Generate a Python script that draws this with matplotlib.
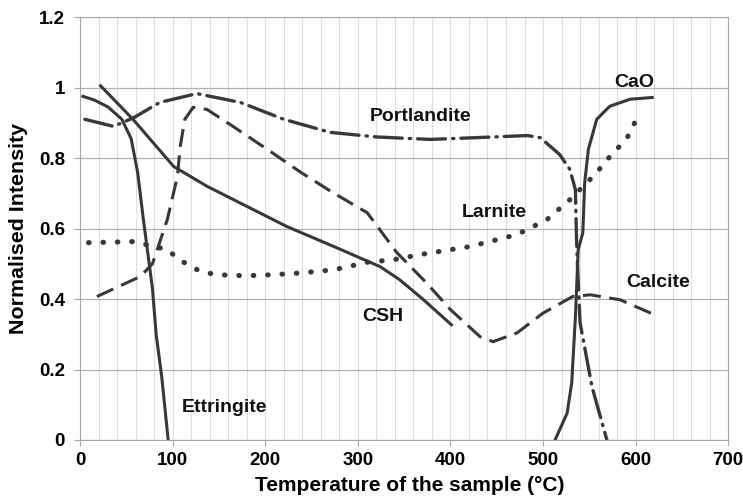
import numpy as np
import matplotlib.pyplot as plt
from matplotlib.ticker import MultipleLocator

plt.rcParams['font.family'] = ['Liberation Sans', 'DejaVu Sans']

# Dades llegides de la figura (temperatura en C, intensitat normalitzada)
ettr_x = [3, 15, 30, 45, 55, 62, 68, 74, 78, 82, 88, 95]
ettr_y = [0.975, 0.965, 0.945, 0.91, 0.855, 0.76, 0.63, 0.51, 0.43, 0.3, 0.18, 0.0]

csh_x = [22, 57, 101, 137, 180, 223, 274, 324, 345, 370, 401]
csh_y = [1.005, 0.91, 0.776, 0.72, 0.663, 0.606, 0.549, 0.492, 0.455, 0.4, 0.327]

port_x = [5, 36, 58, 86, 126, 173, 220, 270, 320, 378, 428, 483, 497, 518, 529, 535, 536, 537, 540, 553, 569]
port_y = [0.91, 0.89, 0.915, 0.958, 0.983, 0.958, 0.91, 0.873, 0.86, 0.853, 0.858, 0.864, 0.858, 0.81, 0.768, 0.71, 0.588, 0.51, 0.333, 0.15, 0.0]

larn_x = [9, 58, 94, 108, 130, 148, 178, 209, 238, 274, 313, 335, 367, 421, 472, 504, 529, 556, 574, 590, 599]
larn_y = [0.56, 0.563, 0.54, 0.51, 0.478, 0.469, 0.466, 0.469, 0.474, 0.483, 0.506, 0.51, 0.526, 0.549, 0.583, 0.625, 0.682, 0.753, 0.81, 0.853, 0.9]

calc_x = [18, 65, 78, 94, 105, 108, 113, 122, 137, 165, 202, 238, 273, 310, 342, 374, 400, 432, 446, 472, 500, 532, 551, 583, 621]
calc_y = [0.407, 0.464, 0.5, 0.625, 0.748, 0.833, 0.91, 0.944, 0.938, 0.89, 0.825, 0.76, 0.702, 0.645, 0.532, 0.446, 0.37, 0.293, 0.279, 0.304, 0.36, 0.407, 0.412, 0.398, 0.355]

cao_x = [513, 526, 531, 535, 538, 543, 545, 549, 558, 572, 594, 618]
cao_y = [0.0, 0.076, 0.162, 0.35, 0.54, 0.588, 0.73, 0.825, 0.91, 0.947, 0.967, 0.972]

etiquetes = ['Ettringite', 'CSH', 'Portlandite', 'Larnite', 'Calcite', 'CaO']
etiq_x = [156, 327, 368, 447, 624, 599]
etiq_y = [0.091, 0.35, 0.918, 0.645, 0.446, 1.015]

col = '#383838'

fig = plt.figure(figsize=(7.43, 5.04), dpi=100)
ax = fig.add_axes([0.108, 0.127, 0.872, 0.839])

ax.plot(ettr_x, ettr_y, color=col, lw=2.2)
ax.plot(csh_x, csh_y, color=col, lw=2.2)
ax.plot(cao_x, cao_y, color=col, lw=2.2)
ax.plot(port_x, port_y, color=col, lw=2.4, linestyle=(0, (8.4, 2.1, 0.4, 2.1)),
        dash_capstyle='round')
ax.plot(calc_x, calc_y, color=col, lw=2.2, linestyle=(0, (5.9, 2.8)))
ax.plot(larn_x, larn_y, color=col, lw=3.7, linestyle=(0, (0.1, 2.7)),
        dash_capstyle='round')

for t, x, y in zip(etiquetes, etiq_x, etiq_y):
    ax.text(x, y, t, fontsize=14, fontweight='bold', ha='center', va='center',
            color='#111111')

ax.set_xlim(0, 700)
ax.set_ylim(0, 1.2)
ax.xaxis.set_major_locator(MultipleLocator(100))
ax.xaxis.set_minor_locator(MultipleLocator(20))
ax.set_yticks([0, 0.2, 0.4, 0.6, 0.8, 1.0, 1.2])
ax.set_yticklabels(['0', '0.2', '0.4', '0.6', '0.8', '1', '1.2'])

ax.grid(axis='y', which='major', color='#b0b0b0', lw=0.9)
ax.grid(axis='x', which='both', color='#dedede', lw=0.8)
ax.set_axisbelow(True)
for s in ax.spines.values():
    s.set_color('#a8a8a8')
ax.tick_params(which='major', length=4, color='#a8a8a8', pad=7)
ax.tick_params(axis='x', which='major', pad=5)
ax.tick_params(which='minor', length=0)
for lab in ax.get_xticklabels() + ax.get_yticklabels():
    lab.set_fontweight('bold')
    lab.set_fontsize(13.5)

ax.set_xlabel('Temperature of the sample (°C)', fontsize=15, fontweight='bold')
ax.set_ylabel('Normalised Intensity', fontsize=15.4, fontweight='bold')
ax.xaxis.set_label_coords(0.509, -0.085)
ax.yaxis.set_label_coords(-0.08, 0.5)

fig.savefig('out.png', dpi=100)
